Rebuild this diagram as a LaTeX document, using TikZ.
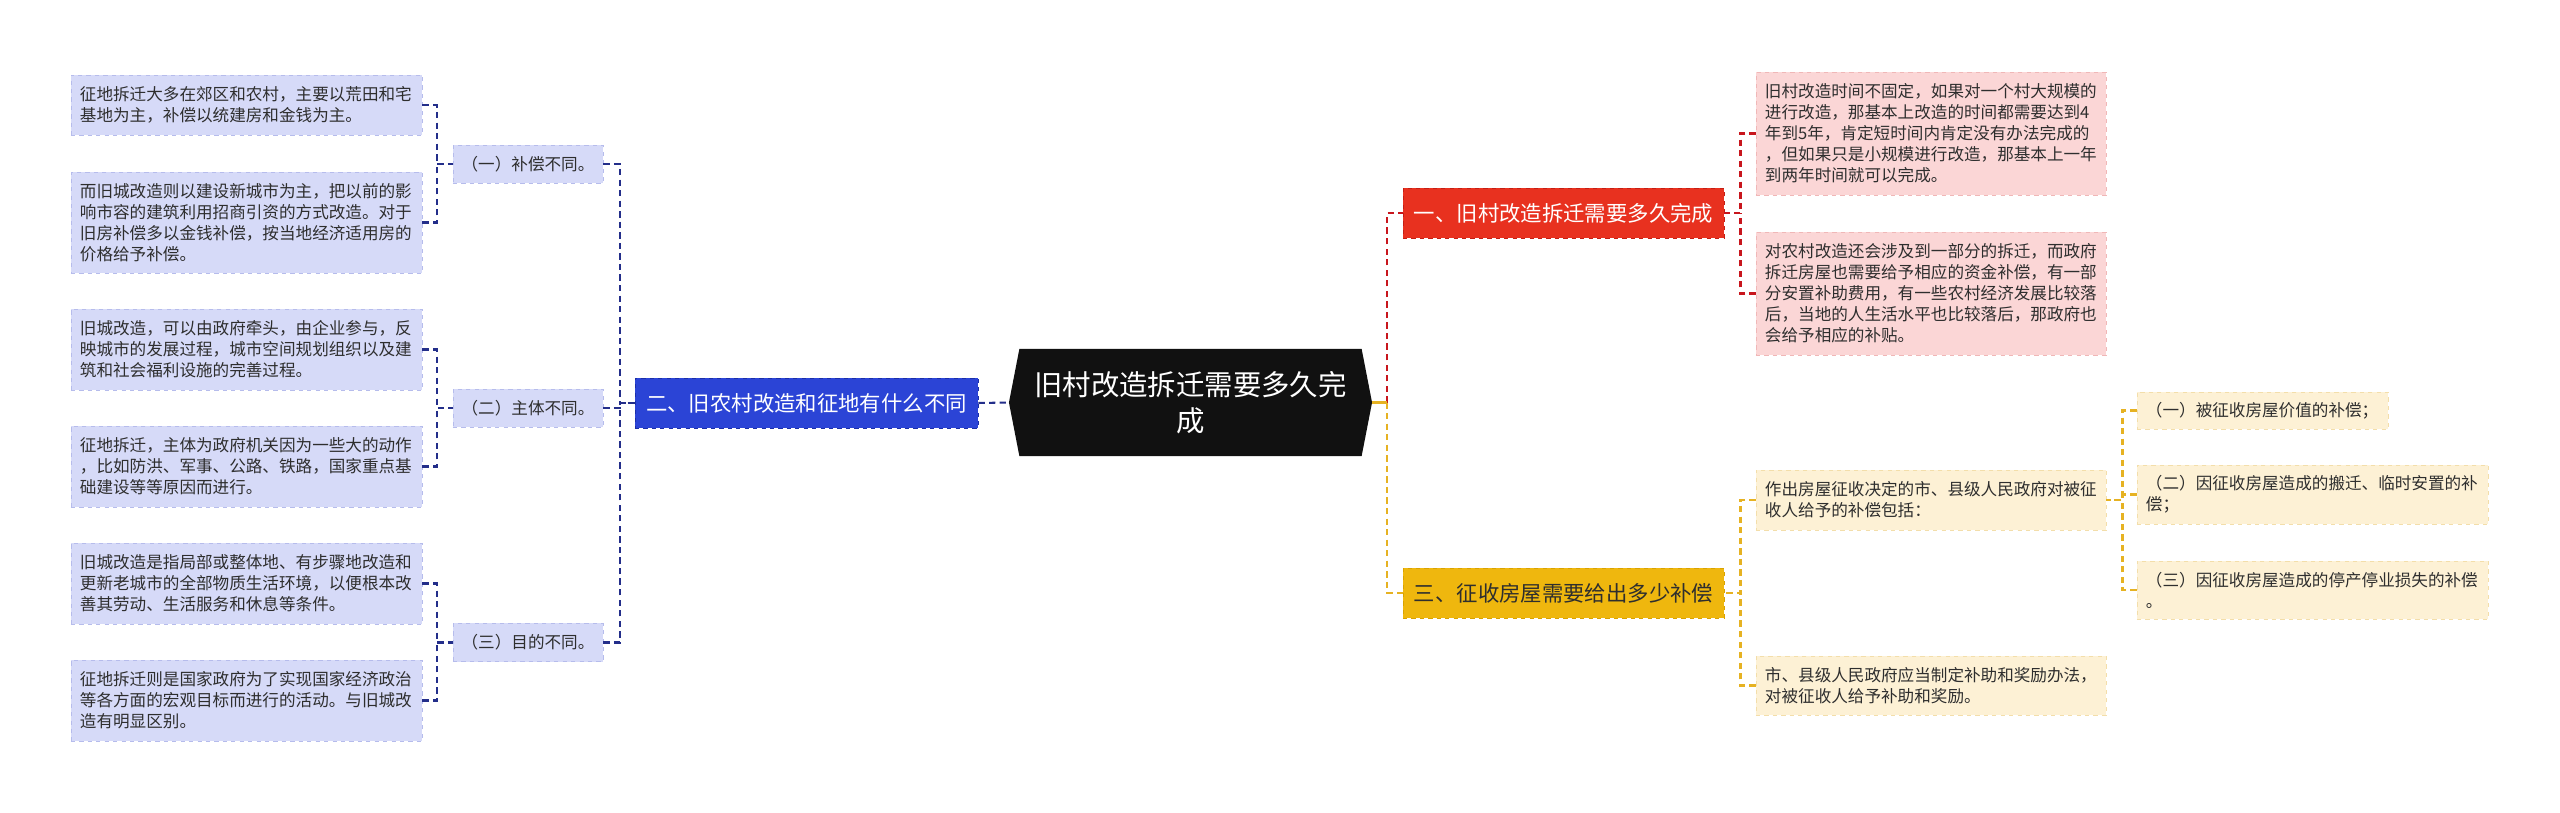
\documentclass[tikz,border=0pt]{standalone}
\usepackage{fontspec}
\setmainfont{Noto Sans CJK SC}
\usepackage{tikz}
\usetikzlibrary{calc,shapes.symbols}
\definecolor{lvFill}{HTML}{D6DAF8}
\definecolor{lvEdge}{HTML}{B6BCEC}
\definecolor{navyLn}{HTML}{232E8A}
\definecolor{blueBr}{HTML}{2B44D6}
\definecolor{blueEdge}{HTML}{1B2FA8}
\definecolor{redBr}{HTML}{E8311F}
\definecolor{redEdge}{HTML}{C41E14}
\definecolor{redLn}{HTML}{C8161D}
\definecolor{pinkFill}{HTML}{FBD6D6}
\definecolor{pinkEdge}{HTML}{F0B7B7}
\definecolor{yelBr}{HTML}{EFB70E}
\definecolor{yelEdge}{HTML}{D9A200}
\definecolor{yelLn}{HTML}{E6B222}
\definecolor{creamFill}{HTML}{FDF1D5}
\definecolor{creamEdge}{HTML}{F3DEAA}
\definecolor{inkTxt}{HTML}{2E2E2E}
\definecolor{coreFill}{HTML}{111111}

\begin{document}
\begin{tikzpicture}[x=0.025cm,y=-0.025cm,
  leaf/.style={draw, dashed, line width=0.6pt, text=inkTxt, align=left,
    inner xsep=0.225cm, inner ysep=0pt, font=\fontsize{11.8}{14.9}\selectfont},
  leafL/.style={leaf, fill=lvFill, draw=lvEdge, text width=8.325cm},
  leafR/.style={leaf, fill=pinkFill, draw=pinkEdge, text width=8.3cm},
  leafY/.style={leaf, fill=creamFill, draw=creamEdge, text width=8.3cm},
  subL/.style={leaf, fill=lvFill, draw=lvEdge, align=center, inner sep=0pt,
    minimum width=3.75cm, minimum height=0.95cm},
  branch/.style={draw, dashed, line width=0.6pt, inner sep=0pt, minimum height=1.25cm,
    font=\fontsize{15.2}{18}\selectfont},
  link/.style={dash pattern=on 4.5pt off 3pt, line width=1.45pt}]
\fill[white] (0,0) rectangle (2560,813);
\useasboundingbox (0,0) rectangle (2560,813);

\node[signal, signal to=west and east, signal pointer angle=158, fill=coreFill,
  text=white, align=center, inner sep=0pt, minimum width=9.075cm, minimum height=2.675cm,
  font=\fontsize{20.2}{25.5}\selectfont] (core) at (1190.5,402.5)
  {旧村改造拆迁需要多久完\\成};

\node[branch, fill=blueBr, draw=blueEdge, text=white, minimum width=8.575cm] (two) at (806.5,403)
  {二、旧农村改造和征地有什么不同};
\node[branch, fill=redBr, draw=redEdge, text=white, minimum width=8.025cm] (one) at (1563.5,213)
  {一、旧村改造拆迁需要多久完成};
\node[branch, fill=yelBr, draw=yelEdge, text=inkTxt, minimum width=8.025cm] (three) at (1563.5,593)
  {三、征收房屋需要给出多少补偿};

\node[subL] (s1) at (528,164) {（一）补偿不同。};
\node[subL] (s2) at (528,408) {（二）主体不同。};
\node[subL] (s3) at (528,642.5) {（三）目的不同。};

\node[leafL, minimum height=1.5cm] (l1) at (246.5,105)
  {征地拆迁大多在郊区和农村，主要以荒田和宅\\基地为主，补偿以统建房和金钱为主。};
\node[leafL, minimum height=2.525cm] (l2) at (246.5,222.5)
  {而旧城改造则以建设新城市为主，把以前的影\\响市容的建筑利用招商引资的方式改造。对于\\旧房补偿多以金钱补偿，按当地经济适用房的\\价格给予补偿。};
\node[leafL, minimum height=2.025cm] (l3) at (246.5,349.5)
  {旧城改造，可以由政府牵头，由企业参与，反\\映城市的发展过程，城市空间规划组织以及建\\筑和社会福利设施的完善过程。};
\node[leafL, minimum height=2.025cm] (l4) at (246.5,466.5)
  {征地拆迁，主体为政府机关因为一些大的动作\\，比如防洪、军事、公路、铁路，国家重点基\\础建设等等原因而进行。};
\node[leafL, minimum height=2.025cm] (l5) at (246.5,583.5)
  {旧城改造是指局部或整体地、有步骤地改造和\\更新老城市的全部物质生活环境，以便根本改\\善其劳动、生活服务和休息等条件。};
\node[leafL, minimum height=2.025cm] (l6) at (246.5,700.5)
  {征地拆迁则是国家政府为了实现国家经济政治\\等各方面的宏观目标而进行的活动。与旧城改\\造有明显区别。};

\node[leafR, minimum height=3.075cm] (r1) at (1931,133.5)
  {旧村改造时间不固定，如果对一个村大规模的\\进行改造，那基本上改造的时间都需要达到4\\年到5年，肯定短时间内肯定没有办法完成的\\，但如果只是小规模进行改造，那基本上一年\\到两年时间就可以完成。};
\node[leafR, minimum height=3.075cm] (r2) at (1931,293.5)
  {对农村改造还会涉及到一部分的拆迁，而政府\\拆迁房屋也需要给予相应的资金补偿，有一部\\分安置补助费用，有一些农村经济发展比较落\\后，当地的人生活水平也比较落后，那政府也\\会给予相应的补贴。};

\node[leafY, minimum height=1.5cm] (y1) at (1931,500)
  {作出房屋征收决定的市、县级人民政府对被征\\收人给予的补偿包括：};
\node[leafY, minimum height=1.475cm] (y2) at (1931,685.5)
  {市、县级人民政府应当制定补助和奖励办法，\\对被征收人给予补助和奖励。};

\node[leafY, text width=5.825cm, minimum height=0.925cm] (ya) at (2262.5,410.5)
  {（一）被征收房屋价值的补偿；};
\node[leafY, text width=8.325cm, minimum height=1.475cm] (yb) at (2312.5,494.5)
  {（二）因征收房屋造成的搬迁、临时安置的补\\偿；};
\node[leafY, text width=8.325cm, minimum height=1.45cm] (yc) at (2312.5,590)
  {（三）因征收房屋造成的停产停业损失的补偿\\。};

% left side
\foreach \s/\a/\b in {s1/l1/l2,s2/l3/l4,s3/l5/l6}{
  \coordinate (j\s) at ($(\s.west)+(-16,0)$);
  \draw[link, navyLn] (\a.east) -| (j\s) -- (\s.west);
  \draw[link, navyLn] (\b.east) -| (j\s);
}
\coordinate (jtwo) at ($(two.west)+(-15,0)$);
\foreach \s in {s1,s2,s3}
  \draw[link, navyLn] (\s.east) -| (jtwo) -- (two.west);
\draw[link, navyLn] (two.east) -- (core.west);

% right side
\coordinate (jcore) at ($(core.east)+(15,0)$);
\draw[link, redLn] (jcore) |- (one.west);
\draw[link, yelLn] (jcore) |- (three.west);
\draw[yelLn, line width=1.45pt] (core.east) -- (jcore);
\coordinate (jone) at ($(one.east)+(16,0)$);
\draw[link, redLn] (r1.west) -| (jone) -- (one.east);
\draw[link, redLn] (r2.west) -| (jone);
\coordinate (jthree) at ($(three.east)+(16,0)$);
\draw[link, yelLn] (y1.west) -| (jthree) -- (three.east);
\draw[link, yelLn] (y2.west) -| (jthree);
\coordinate (jy) at ($(y1.east)+(16,0)$);
\foreach \k in {ya,yb,yc}
  \draw[link, yelLn] (\k.west) -| (jy) -- (y1.east);
\end{tikzpicture}
\end{document}
